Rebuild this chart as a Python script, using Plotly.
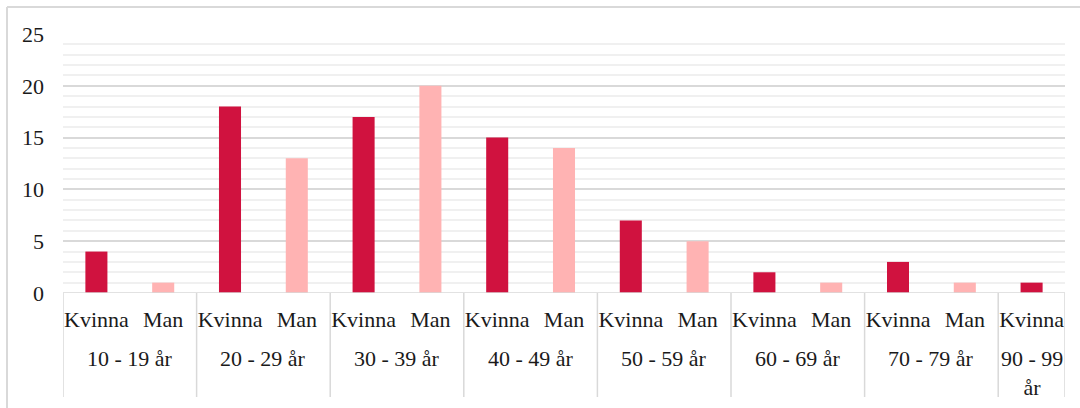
import plotly.graph_objects as go

# Age groups and the genders recorded in each group
groups = ["10 - 19 år", "20 - 29 år", "30 - 39 år", "40 - 49 år",
          "50 - 59 år", "60 - 69 år", "70 - 79 år", "90 - 99<br>år"]
kvinna = [4, 18, 17, 15, 7, 2, 3, 1]
man = [1, 13, 20, 14, 5, 1, 1, None]  # no men in the oldest group

y_ticks = [0, 5, 10, 15, 20, 25]

KVINNA_COLOR = "#D0123F"
MAN_COLOR = "#FFB3B3"
GRID_MAJOR = "#D9D9D9"
GRID_MINOR = "#F0F0F0"
FONT = "Liberation Serif"
TEXT = "#1A1A1A"
FS = 22

# Lay the groups out on a shared slot axis
kx, ky, mx, my = [], [], [], []
tickvals, ticktext = [], []
bounds = []
group_centers = []
slot = 0
for g, k, m in zip(groups, kvinna, man):
    start = slot
    kx.append(slot); ky.append(k)
    tickvals.append(slot); ticktext.append("Kvinna")
    slot += 1
    if m is not None:
        mx.append(slot); my.append(m)
        tickvals.append(slot); ticktext.append("Man")
        slot += 1
    bounds.append(start - 0.5)
    group_centers.append((start + slot - 1) / 2)
bounds.append(slot - 0.5)
n_slots = slot

fig = go.Figure()
fig.add_trace(go.Bar(x=kx, y=ky, name="Kvinna", marker_color=KVINNA_COLOR,
                     width=0.33, marker_line_width=0))
fig.add_trace(go.Bar(x=mx, y=my, name="Man", marker_color=MAN_COLOR,
                     width=0.33, marker_line_width=0))

plot_h = 408 - 34 - 115

shapes = []
# category separators below the axis
for b in bounds:
    shapes.append(dict(type="line", xref="x", yref="paper", x0=b, x1=b,
                       y0=0, y1=-104 / plot_h,
                       line=dict(color=GRID_MAJOR, width=1.5)))
# baseline
shapes.append(dict(type="line", xref="paper", yref="y", x0=0, x1=1, y0=0, y1=0,
                   line=dict(color=GRID_MAJOR, width=1.5)))
# chart frame (top and left edges)
plot_w = 1080 - 63 - 15
fx = (7 - 63) / plot_w
fy = 1 + (34 - 7) / plot_h
shapes.append(dict(type="line", xref="paper", yref="paper", x0=fx, x1=1.1,
                   y0=fy, y1=fy, line=dict(color=GRID_MAJOR, width=2)))
shapes.append(dict(type="line", xref="paper", yref="paper", x0=fx, x1=fx,
                   y0=fy, y1=-0.5, line=dict(color=GRID_MAJOR, width=2)))

annotations = []
for g, c in zip(groups, group_centers):
    annotations.append(dict(x=c, y=-(344 - 293) / plot_h, xref="x", yref="paper",
                            text=g, showarrow=False, yanchor="top",
                            font=dict(family=FONT, size=FS, color=TEXT)))

fig.update_layout(
    width=1080, height=408,
    margin=dict(l=63, r=15, t=34, b=115),
    paper_bgcolor="white", plot_bgcolor="white",
    showlegend=False,
    shapes=shapes,
    annotations=annotations,
    font=dict(family=FONT, size=FS, color=TEXT),
)
fig.update_xaxes(range=[-0.5, n_slots - 0.5], tickvals=tickvals, ticktext=ticktext,
                 showgrid=False, zeroline=False, showline=False, ticks="",
                 ticklabelstandoff=11,
                 tickfont=dict(family=FONT, size=FS, color=TEXT))
fig.update_yaxes(range=[0, 25], tickvals=y_ticks, showgrid=True,
                 gridcolor=GRID_MAJOR, gridwidth=1.5, zeroline=False,
                 showline=False, ticks="", ticklabelstandoff=18,
                 tickfont=dict(family=FONT, size=FS, color=TEXT),
                 minor=dict(dtick=1, showgrid=True, gridcolor=GRID_MINOR,
                            gridwidth=1.5))

fig.write_html("out.html")
